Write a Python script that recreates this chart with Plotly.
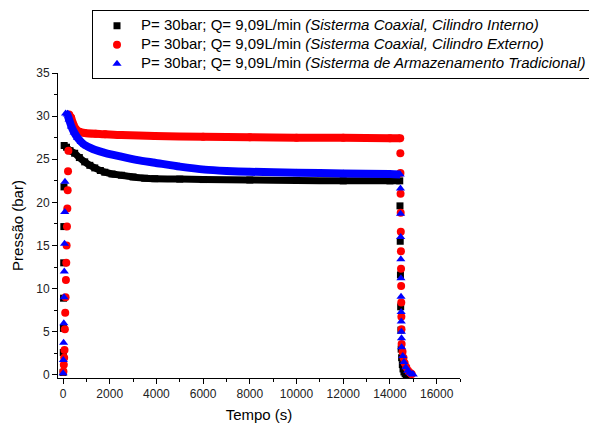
import plotly.graph_objects as go

# --- Cilindro interno (preto) ---
t_int_sub = [5, 12, 18, 24, 30, 36, 42]
p_int_sub = [0.3, 2.6, 5.4, 8.9, 13.0, 17.2, 21.8]
t_int_pat = [50, 150, 300, 500, 700, 930, 1150, 1360, 1600, 1790, 2100, 2500, 3000,
             3500, 3930, 5000, 6000, 8000, 10000, 12000, 14000, 14420]
p_int_pat = [26.6, 26.4, 26.0, 25.7, 25.2, 24.7, 24.3, 24.0, 23.7, 23.5, 23.3, 23.15, 22.95,
             22.8, 22.75, 22.7, 22.65, 22.6, 22.55, 22.5, 22.5, 22.5]
t_int_desc = [14430, 14440, 14450, 14460, 14470, 14480, 14500, 14530, 14560, 14600, 14650, 14700]
p_int_desc = [19.6, 15.5, 11.6, 7.9, 5.2, 3.0, 2.0, 1.2, 0.7, 0.35, 0.15, 0.05]

# --- Cilindro externo (vermelho) ---
t_ext_sub = [20, 35, 50, 65, 80, 95, 110, 125, 140, 155, 170, 185, 200, 215, 230]
p_ext_sub = [0.4, 1.2, 2.0, 2.9, 5.3, 7.2, 9.0, 11.0, 13.0, 15.0, 17.2, 19.3, 21.4, 23.6, 26.0]
t_ext_pat = [260, 350, 450, 550, 700, 930, 1400, 1800, 2500, 3930, 6000, 8000, 10000,
             12000, 14000, 14440]
p_ext_pat = [30.2, 29.8, 29.0, 28.5, 28.2, 28.05, 27.95, 27.9, 27.8, 27.7, 27.6, 27.55, 27.5,
             27.5, 27.45, 27.45]
t_ext_desc = [14445, 14450, 14455, 14460, 14465, 14470, 14475, 14480, 14485, 14490, 14495,
              14500, 14540, 14580, 14630, 14700, 14780, 14860, 14930]
p_ext_desc = [25.7, 23.4, 21.0, 18.8, 16.6, 14.35, 12.3, 10.3, 8.4, 6.75, 5.3, 3.6, 2.7,
              2.0, 1.4, 0.9, 0.5, 0.25, 0.1]

# --- Armazenamento tradicional (azul) ---
t_trad_sub = [5, 15, 25, 35, 45, 55, 65, 75, 85]
p_trad_sub = [0.2, 1.75, 3.75, 6.0, 9.0, 12.0, 15.2, 18.9, 22.4]
t_trad_pat = [110, 180, 260, 360, 480, 620, 780, 930, 1150, 1360, 1790, 2500, 3200, 3930,
              5000, 6070, 7000, 8000, 10000, 12000, 14000, 14440]
p_trad_pat = [30.3, 30.2, 29.6, 28.8, 28.1, 27.5, 27.0, 26.65, 26.35, 26.1, 25.75, 25.3, 24.9,
              24.6, 24.15, 23.8, 23.65, 23.55, 23.45, 23.35, 23.3, 23.25]
t_trad_desc = [14450, 14455, 14460, 14465, 14470, 14475, 14480, 14485, 14490, 14495, 14500,
               14550, 14600, 14680, 14760, 14850, 14950, 15000]
p_trad_desc = [21.6, 18.7, 16.0, 13.4, 11.2, 9.07, 7.3, 6.2, 5.0, 4.25, 3.2, 2.2, 1.5, 0.9,
               0.5, 0.25, 0.1, 0.05]

rotulos = [
    "P= 30bar; Q= 9,09L/min <i>(Sisterma Coaxial, Cilindro Interno)</i>",
    "P= 30bar; Q= 9,09L/min <i>(Sisterma Coaxial, Cilindro Externo)</i>",
    "P= 30bar; Q= 9,09L/min <i>(Sisterma de Armazenamento Tradicional)</i>",
]
# legend text is larger than the legend row pitch would normally allow
nomes = ['<span style="font-size:15px">' + r + "</span>" for r in rotulos]

series = [
    (t_int_sub, p_int_sub, t_int_pat, p_int_pat, t_int_desc, p_int_desc, "#000000", "square", 7, 7),
    (t_ext_sub, p_ext_sub, t_ext_pat, p_ext_pat, t_ext_desc, p_ext_desc, "#ff0000", "circle", 8, 8),
    (t_trad_sub, p_trad_sub, t_trad_pat, p_trad_pat, t_trad_desc, p_trad_desc, "#0000ff", "triangle-up", 8, 8),
]

fig = go.Figure()
for nome, (ts, ps, tp, pp, td, pd_, cor, simb, tam, larg) in zip(nomes, series):
    grupo = nome
    # dense plateau drawn as a thick band of overlapping points
    fig.add_trace(go.Scatter(
        x=tp, y=pp, mode="lines+markers", legendgroup=grupo, showlegend=False,
        line=dict(color=cor, width=larg, shape="spline", smoothing=0.6),
        marker=dict(color=cor, symbol=simb, size=tam),
        hoverinfo="skip",
    ))
    # pressurisation and depressurisation points
    fig.add_trace(go.Scatter(
        x=ts + td, y=ps + pd_, mode="markers", name=nome, legendgroup=grupo,
        marker=dict(color=cor, symbol=simb, size=tam),
    ))

fonte = "Liberation Sans, Arial, sans-serif"

fig.update_layout(
    width=589, height=423,
    margin=dict(l=58, r=129, t=73, b=45, autoexpand=False),
    paper_bgcolor="white", plot_bgcolor="white",
    font=dict(family=fonte, color="#000000", size=12),
    showlegend=True,
    legend=dict(
        x=0.0846, y=1.2054, xanchor="left", yanchor="top",
        bgcolor="white", bordercolor="#000000", borderwidth=1,
        font=dict(family=fonte, size=10.5, color="#000000"),
        itemwidth=38, tracegroupgap=0,
    ),
    xaxis=dict(
        range=[-214, 17000], showgrid=False, zeroline=False, automargin=False,
        showline=True, linecolor="#000000", linewidth=1,
        ticks="outside", ticklen=5, tickcolor="#000000",
        tickmode="linear", tick0=0, dtick=2000, tickformat="d",
        minor=dict(ticks="outside", ticklen=3, dtick=1000, tick0=0, tickcolor="#000000"),
        tickfont=dict(size=12, color="#222222"),
        title=dict(text="Tempo (s)", font=dict(size=15), standoff=9),
    ),
    yaxis=dict(
        range=[-0.35, 35], showgrid=False, zeroline=False, automargin=False,
        showline=True, linecolor="#000000", linewidth=1,
        ticks="outside", ticklen=5, tickcolor="#000000",
        tickmode="linear", tick0=0, dtick=5, tickformat="d",
        minor=dict(ticks="outside", ticklen=3, dtick=2.5, tick0=0, tickcolor="#000000"),
        tickfont=dict(size=12, color="#222222"),
        title=dict(text="Pressão (bar)", font=dict(size=15), standoff=8),
    ),
)

fig.write_html("out.html")
